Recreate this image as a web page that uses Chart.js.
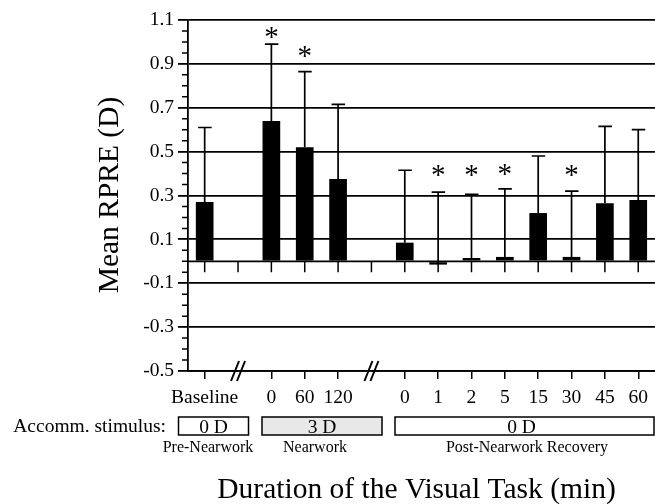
<!DOCTYPE html>
<html>
<head>
<meta charset="utf-8">
<script src="https://cdn.jsdelivr.net/npm/chart.js@4/dist/chart.umd.min.js"></script>
<style>
  html, body { margin: 0; padding: 0; background: #fff; }
  #wrap { width: 655px; height: 504px; }
</style>
</head>
<body>
<div id="wrap"><canvas id="rpreChart"></canvas></div>
<script>
// time points (min); empty slots are the axis breaks
const timeLabels = ["Baseline", "", "0", "60", "120", "", "0", "1", "2", "5", "15", "30", "45", "60"];
const meanRPRE = [0.27, null, 0.64, 0.52, 0.375, null, 0.085, -0.015, 0.015, 0.02, 0.22, 0.02, 0.265, 0.28];
const sdRPRE = [0.34, null, 0.35, 0.345, 0.34, null, 0.33, 0.33, 0.29, 0.31, 0.26, 0.30, 0.35, 0.32];
const significant = [false, false, true, true, false, false, false, true, true, true, false, true, false, false];
const breakSlots = [1, 5];
const yTickLabels = ["-0.5", "-0.3", "-0.1", "0.1", "0.3", "0.5", "0.7", "0.9", "1.1"];
const stimulusLabels = ["0 D", "3 D", "0 D"];
const phaseLabels = ["Pre-Nearwork", "Nearwork", "Post-Nearwork Recovery"];

const serif = "'Liberation Serif', 'Times New Roman', serif";

function majorLabel(v) {
  if (Math.abs(v * 10 - Math.round(v * 10)) > 1e-6) return '';
  const s = (Math.round(v * 10) / 10).toFixed(1);
  return yTickLabels.includes(s) ? s : '';
}

const overlay = {
  id: 'overlay',
  afterDatasetsDraw(chart) {
    const { ctx, chartArea, scales: { x, y } } = chart;
    ctx.save();
    ctx.strokeStyle = '#000';
    ctx.fillStyle = '#000';

    // minor ticks on the y axis
    ctx.lineWidth = 1.5;
    ctx.beginPath();
    y.ticks.forEach(t => {
      if (majorLabel(t.value)) return;
      const py = y.getPixelForValue(t.value);
      ctx.moveTo(chartArea.left - 6, py);
      ctx.lineTo(chartArea.left, py);
    });
    ctx.stroke();

    // zero line with downward ticks
    const y0 = y.getPixelForValue(0);
    ctx.lineWidth = 1.8;
    ctx.beginPath();
    ctx.moveTo(chartArea.left, y0);
    ctx.lineTo(chartArea.right, y0);
    ctx.stroke();
    ctx.lineWidth = 1.5;
    ctx.beginPath();
    timeLabels.forEach((_, i) => {
      const px = x.getPixelForValue(i);
      ctx.moveTo(px, y0);
      ctx.lineTo(px, y0 + 11);
    });
    ctx.stroke();

    // error bars (upper only)
    ctx.lineWidth = 1.7;
    meanRPRE.forEach((m, i) => {
      if (m === null) return;
      const px = x.getPixelForValue(i);
      const pm = y.getPixelForValue(m);
      const pt = y.getPixelForValue(m + sdRPRE[i]);
      ctx.beginPath();
      ctx.moveTo(px, pm);
      ctx.lineTo(px, pt);
      ctx.moveTo(px - 6.5, pt);
      ctx.lineTo(px + 7, pt);
      ctx.stroke();
    });

    // significance asterisks
    ctx.font = '29px ' + serif;
    ctx.textAlign = 'center';
    ctx.textBaseline = 'alphabetic';
    const mt = ctx.measureText('*');
    const mid = (mt.actualBoundingBoxAscent - mt.actualBoundingBoxDescent) / 2;
    significant.forEach((s, i) => {
      if (!s) return;
      const top = meanRPRE[i] + sdRPRE[i];
      const v = Math.min(Math.max(top + 0.09, 0.415), 1.045);
      ctx.fillText('*', x.getPixelForValue(i), y.getPixelForValue(v) + mid);
    });
    ctx.restore();
  },
  afterDraw(chart) {
    const { ctx, chartArea, scales: { x } } = chart;
    ctx.save();
    ctx.strokeStyle = '#000';
    ctx.fillStyle = '#000';

    // axis break marks
    const yb = chartArea.bottom;
    ctx.lineWidth = 2;
    breakSlots.forEach(i => {
      const px = x.getPixelForValue(i);
      [-3, 3].forEach(d => {
        ctx.beginPath();
        ctx.moveTo(px + d - 4, yb + 10);
        ctx.lineTo(px + d + 4, yb - 10);
        ctx.stroke();
      });
    });

    // accommodative stimulus boxes
    ctx.font = '19.5px ' + serif;
    ctx.textBaseline = 'alphabetic';
    ctx.textAlign = 'right';
    ctx.fillText('Accomm. stimulus:', 166, 432);
    const boxes = [[178.5, 248.5, '#fff'], [262, 382, '#e8e8e8'], [395, 654, '#fff']];
    const subX = [208, 315, 527];
    ctx.lineWidth = 1.5;
    boxes.forEach((b, i) => {
      ctx.fillStyle = b[2];
      ctx.fillRect(b[0], 417, b[1] - b[0], 18);
      ctx.strokeRect(b[0], 417, b[1] - b[0], 18);
      ctx.fillStyle = '#000';
      ctx.textAlign = 'center';
      ctx.font = '19.5px ' + serif;
      ctx.fillText(stimulusLabels[i], (b[0] + b[1]) / 2 + (i === 2 ? -3 : 0), 432.5);
      ctx.font = '16px ' + serif;
      ctx.fillText(phaseLabels[i], subX[i], 452);
    });

    // axis titles
    ctx.font = '29.5px ' + serif;
    ctx.textAlign = 'center';
    ctx.fillText('Duration of the Visual Task (min)', 416.5, 498);
    ctx.translate(110, 195);
    ctx.rotate(-Math.PI / 2);
    ctx.textBaseline = 'middle';
    ctx.fillText('Mean RPRE (D)', 0, 0);
    ctx.restore();
  }
};

new Chart(document.getElementById('rpreChart'), {
  type: 'bar',
  data: {
    labels: timeLabels,
    datasets: [{
      label: 'Mean RPRE (D)',
      data: meanRPRE,
      backgroundColor: '#000',
      barPercentage: 0.53,
      categoryPercentage: 1
    }]
  },
  options: {
    responsive: true,
    maintainAspectRatio: false,
    animation: false,
    layout: { padding: { top: 20, right: 0, left: 0, bottom: 0 } },
    plugins: {
      legend: { display: false },
      tooltip: { enabled: false }
    },
    scales: {
      x: {
        offset: true,
        grid: {
          offset: false,
          drawOnChartArea: false,
          tickLength: 8,
          lineWidth: 1.5,
          tickColor: c => breakSlots.includes(c.index) ? 'rgba(0,0,0,0)' : '#000'
        },
        border: { color: '#000', width: 1.8 },
        ticks: {
          color: '#000',
          font: { family: serif, size: 19.5 },
          padding: 7,
          autoSkip: false,
          maxRotation: 0
        },
        afterFit(scale) { scale.height = 133; }
      },
      y: {
        min: -0.5,
        max: 1.1,
        ticks: {
          stepSize: 0.05,
          autoSkip: false,
          color: '#000',
          font: { family: serif, size: 19.5 },
          padding: 4,
          callback: v => majorLabel(v)
        },
        grid: {
          tickLength: 10,
          lineWidth: 1.8,
          color: c => majorLabel(c.tick.value) ? '#000' : 'rgba(0,0,0,0)',
          tickColor: c => majorLabel(c.tick.value) ? '#000' : 'rgba(0,0,0,0)'
        },
        border: { color: '#000', width: 1.8 },
        afterFit(scale) { scale.width = 188; }
      }
    }
  },
  plugins: [overlay]
});
</script>
</body>
</html>
